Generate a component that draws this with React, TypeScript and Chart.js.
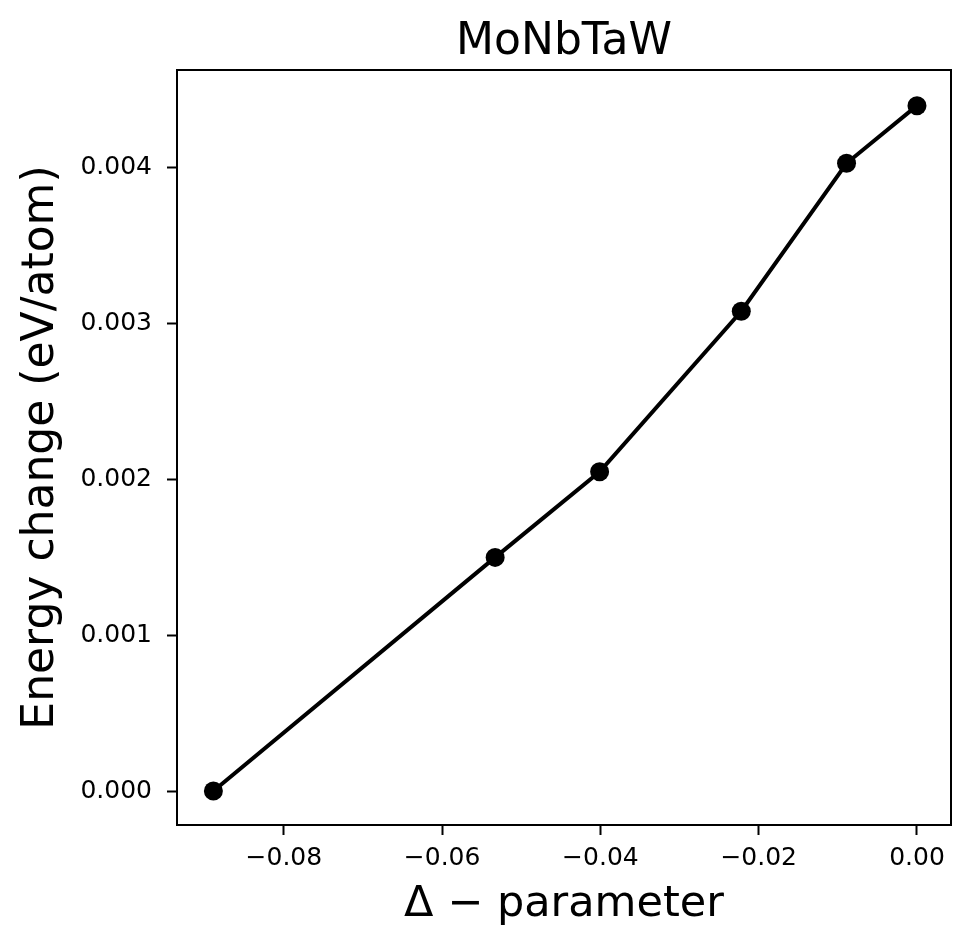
import React, { useEffect, useRef } from "react";
import { Chart, registerables } from "chart.js";

Chart.register(...registerables);

const chartTitle = "MoNbTaW";
const xAxisTitle = "\u0394 \u2212 parameter";
const yAxisTitle = "Energy change (eV/atom)";
const deltaValues = [-0.0889, -0.0533, -0.0401, -0.0222, -0.0089, 0.0];
const energyValues = [0.0, 0.0015, 0.00205, 0.00308, 0.00403, 0.0044];
const xTickValues = [-0.08, -0.06, -0.04, -0.02, 0.0];
const yTickValues = [0.0, 0.001, 0.002, 0.003, 0.004];

const FONT = "'DejaVu Sans', sans-serif";

const fmtX = (v: number) => {
  const s = Math.abs(v).toFixed(2);
  return v < -1e-9 ? "\u2212" + s : s;
};
const fmtY = (v: number) => {
  const s = Math.abs(v).toFixed(3);
  return v < -1e-9 ? "\u2212" + s : s;
};

const framePlugin = {
  id: "frame",
  afterDraw(chart: any) {
    const { ctx, chartArea } = chart;
    ctx.save();
    ctx.strokeStyle = "#000";
    ctx.lineWidth = 2;
    ctx.strokeRect(chartArea.left, chartArea.top, chartArea.right - chartArea.left, chartArea.bottom - chartArea.top);
    ctx.fillStyle = "#000";
    ctx.font = `normal 44px ${FONT}`;
    ctx.textAlign = "center";
    ctx.textBaseline = "alphabetic";
    ctx.fillText(chartTitle, (chartArea.left + chartArea.right) / 2, 54);
    ctx.restore();
  },
};

export default function App() {
  const ref = useRef<HTMLCanvasElement | null>(null);
  useEffect(() => {
    if (!ref.current) return;
    const points = deltaValues.map((x, i) => ({ x, y: energyValues[i] }));
    const chart = new Chart(ref.current, {
      type: "line",
      data: {
        datasets: [
          {
            data: points,
            borderColor: "#000",
            backgroundColor: "#000",
            borderWidth: 4,
            pointRadius: 9.5,
            pointHoverRadius: 9.5,
            pointBackgroundColor: "#000",
            pointBorderColor: "#000",
            pointBorderWidth: 0,
            tension: 0,
          },
        ],
      },
      options: {
        animation: false,
        responsive: true,
        maintainAspectRatio: false,
        layout: { padding: { left: 0, right: 21, top: 70, bottom: 0 } },
        plugins: {
          legend: { display: false },
          tooltip: { enabled: false },
          title: { display: false },
        },
        scales: {
          x: {
            type: "linear",
            min: -0.0935,
            max: 0.0043,
            afterBuildTicks: (scale: any) => {
              scale.ticks = xTickValues.map((v) => ({ value: v }));
            },
            afterFit: (scale: any) => {
              scale.height = 125;
            },
            ticks: {
              color: "#000",
              font: { family: FONT, size: 25 },
              padding: 8,
              maxRotation: 0,
              autoSkip: false,
              callback: (v: any) => fmtX(Number(v)),
            },
            grid: {
              drawOnChartArea: false,
              drawTicks: true,
              tickLength: 10,
              tickWidth: 2,
              tickColor: "#000",
            },
            border: { display: false },
            title: {
              display: true,
              text: xAxisTitle,
              color: "#000",
              font: { family: FONT, size: 43 },
              padding: { top: 0, bottom: 19 },
            },
          },
          y: {
            type: "linear",
            min: -0.000218,
            max: 0.004629,
            afterBuildTicks: (scale: any) => {
              scale.ticks = yTickValues.map((v) => ({ value: v }));
            },
            afterFit: (scale: any) => {
              scale.width = 177;
            },
            ticks: {
              color: "#000",
              font: { family: FONT, size: 25 },
              padding: 15,
              autoSkip: false,
              callback: (v: any) => fmtY(Number(v)),
            },
            grid: {
              drawOnChartArea: false,
              drawTicks: true,
              tickLength: 10,
              tickWidth: 2,
              tickColor: "#000",
            },
            border: { display: false },
            title: {
              display: true,
              text: yAxisTitle,
              color: "#000",
              font: { family: FONT, size: 44 },
              padding: { top: 15, bottom: 0 },
            },
          },
        },
      },
      plugins: [framePlugin],
    } as any);
    return () => chart.destroy();
  }, []);
  return (
    <div style={{ position: "absolute", left: 0, top: 0, width: 972, height: 950, background: "#fff" }}>
      <canvas ref={ref} />
    </div>
  );
}
